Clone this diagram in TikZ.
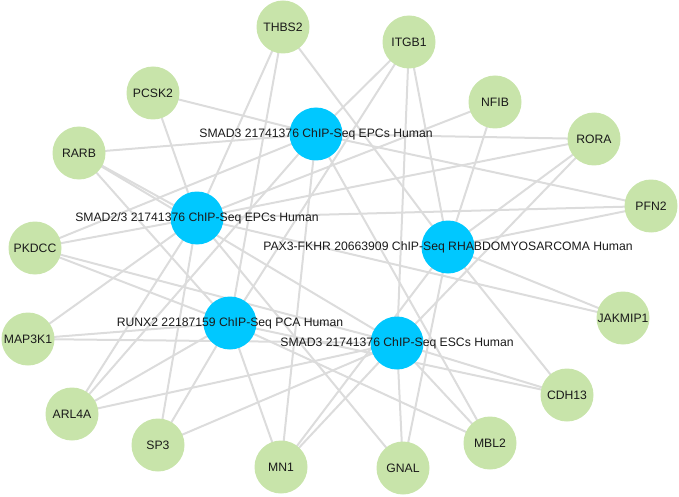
\documentclass[tikz,border=0pt]{standalone}
\usepackage{fontspec}
\setmainfont{Liberation Sans}
\usepackage{xcolor}
\definecolor{tfblue}{HTML}{00C8FF}
\definecolor{genegreen}{HTML}{C8E4AA}
\definecolor{edgegray}{HTML}{DCDCDC}
\definecolor{txtdark}{HTML}{1A1A1A}
\usetikzlibrary{backgrounds}
\tikzset{
  gnode/.style={circle, fill=genegreen, minimum size=53pt, inner sep=0pt,
                text=txtdark, font=\fontsize{12.2}{14}\selectfont},
  tnode/.style={circle, fill=tfblue, minimum size=53pt, inner sep=0pt},
  tlabel/.style={inner sep=0pt, text=txtdark, font=\fontsize{12.2}{14}\selectfont},
  ed/.style={draw=edgegray, line width=2pt},
}

\begin{document}
\begin{tikzpicture}[x=1pt, y=-1pt]
  \useasboundingbox (0,0) rectangle (679,497);
  % genes
  \node[gnode] (thbs2)   at (283,27)  {THBS2};
  \node[gnode] (itgb1)   at (409,42)  {ITGB1};
  \node[gnode] (pcsk2)   at (153,93)  {PCSK2};
  \node[gnode] (nfib)    at (495,102) {NFIB};
  \node[gnode] (rarb)    at (79,153)  {RARB};
  \node[gnode] (rora)    at (594,139) {RORA};
  \node[gnode] (pfn2)    at (651,206) {PFN2};
  \node[gnode] (pkdcc)   at (35,248)  {PKDCC};
  \node[gnode] (jakmip1) at (623,318) {JAKMIP1};
  \node[gnode] (map3k1)  at (28,339)  {MAP3K1};
  \node[gnode] (cdh13)   at (567,395) {CDH13};
  \node[gnode] (arl4a)   at (72,414)  {ARL4A};
  \node[gnode] (mbl2)    at (490,443) {MBL2};
  \node[gnode] (sp3)     at (158,445) {SP3};
  \node[gnode] (mn1)     at (281,467) {MN1};
  \node[gnode] (gnal)    at (403,468) {GNAL};
  % transcription factors
  \node[tnode] (smadepc) at (316,134) {};
  \node[tnode] (smadtwo) at (197,218) {};
  \node[tnode] (pax)     at (448,247) {};
  \node[tnode] (runx)    at (230,323) {};
  \node[tnode] (smadesc) at (397,343) {};
  \node[tlabel] at (smadepc) {SMAD3 21741376 ChIP-Seq EPCs Human};
  \node[tlabel] at (smadtwo) {SMAD2/3 21741376 ChIP-Seq EPCs Human};
  \node[tlabel] at (pax)     {PAX3-FKHR 20663909 ChIP-Seq RHABDOMYOSARCOMA Human};
  \node[tlabel] at (runx)    {RUNX2 22187159 ChIP-Seq PCA Human};
  \node[tlabel] at (smadesc) {SMAD3 21741376 ChIP-Seq ESCs Human};
  % edges
  \begin{scope}[on background layer]
    \foreach \g in {rarb,pcsk2,itgb1,rora,pfn2,pkdcc,mn1,mbl2,arl4a}
      \draw[ed] (\g.center) -- (smadepc.center);
    \foreach \g in {thbs2,pcsk2,rarb,nfib,rora,pfn2,jakmip1,gnal,sp3,arl4a,map3k1,pkdcc}
      \draw[ed] (\g.center) -- (smadtwo.center);
    \foreach \g in {thbs2,itgb1,nfib,rora,pfn2,jakmip1,cdh13,gnal,mn1}
      \draw[ed] (\g.center) -- (pax.center);
    \foreach \g in {thbs2,itgb1,rarb,pkdcc,map3k1,arl4a,sp3,mn1,mbl2,cdh13}
      \draw[ed] (\g.center) -- (runx.center);
    \foreach \g in {itgb1,rora,cdh13,mbl2,gnal,sp3,arl4a,map3k1,mn1,rarb,pkdcc}
      \draw[ed] (\g.center) -- (smadesc.center);
  \end{scope}
\end{tikzpicture}
\end{document}
